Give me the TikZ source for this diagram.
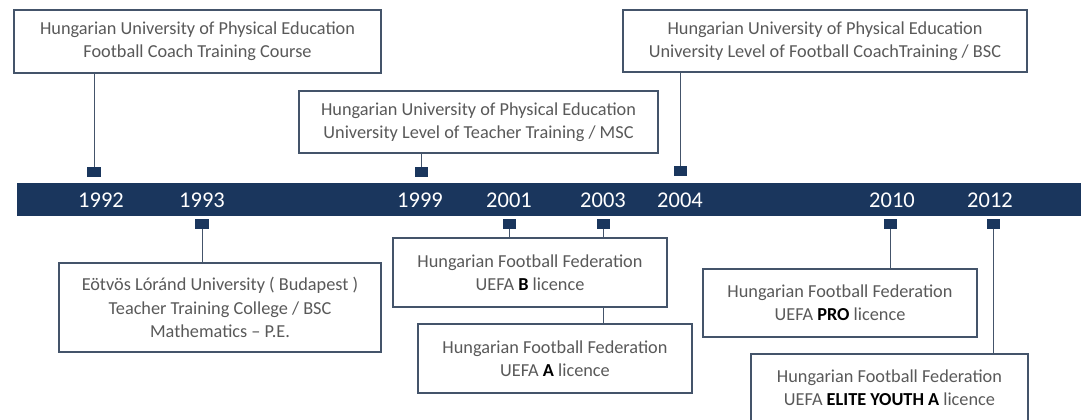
\documentclass[tikz,border=0pt]{standalone}
\usepackage{fontspec}
\setmainfont{Carlito}
\usepackage{xcolor}
\usepackage{tikz}
\usetikzlibrary{positioning}
\definecolor{barblue}{RGB}{26,54,93}
\definecolor{boxline}{RGB}{68,84,106}
\definecolor{textgrey}{RGB}{89,89,89}
\newcommand{\lvl}[1]{\textcolor{black}{\textbf{#1}}}
\begin{document}
\begin{tikzpicture}[x=0.025cm,y=-0.025cm,
  infobox/.style={draw=boxline,line width=0.8pt,fill=white,text=textgrey,align=center,inner sep=0pt,font=\fontsize{13}{16.5}\selectfont},
  year/.style={text=white,font=\fontsize{16}{18}\selectfont},
  yearmark/.style={fill=barblue,minimum width=0.325cm,minimum height=0.25cm,inner sep=0pt},
  link/.style={draw=boxline,line width=0.7pt}]
\clip (0,0) rectangle (1088,420);
\fill[barblue] (17,183) rectangle (1081,216);
\node[year] at (101,200) (y1992) {1992};
\node[year] at (202,200) (y1993) {1993};
\node[year] at (420,200) (y1999) {1999};
\node[year] at (509,200) (y2001) {2001};
\node[year] at (603,200) (y2003) {2003};
\node[year] at (680,200) (y2004) {2004};
\node[year] at (892,200) (y2010) {2010};
\node[year] at (990,200) (y2012) {2012};
\node[yearmark] at (94,172) (m1992) {};
\node[yearmark] at (421,172) (m1999) {};
\node[yearmark] at (680,171) (m2004) {};
\node[yearmark] at (202,224) (m1993) {};
\node[yearmark] at (509,224) (m2001) {};
\node[yearmark] at (603,224) (m2003) {};
\node[yearmark] at (890,224) (m2010) {};
\node[yearmark] at (993,224) (m2012) {};
\node[infobox,minimum width=9.175cm,minimum height=1.575cm] at (197.5,41.5) (pe1) {Hungarian University of Physical Education\\Football Coach Training Course};
\node[infobox,minimum width=8.975cm,minimum height=1.55cm] at (478.5,122) (pe2) {Hungarian University of Physical Education\\University Level of Teacher Training / MSC};
\node[infobox,minimum width=10.1cm,minimum height=1.55cm] at (825,41) (pe3) {Hungarian University of Physical Education\\University Level of Football CoachTraining / BSC};
\node[infobox,minimum width=8.05cm,minimum height=2.225cm] at (220,307.5) (elte) {Eötvös Lóránd University ( Budapest )\\Teacher Training College / BSC\\Mathematics -- P.E.};
\node[infobox,minimum width=6.85cm,minimum height=1.725cm] at (555,358.5) (fa) {Hungarian Football Federation\\UEFA \lvl{A} licence};
\path[link] (m2003.south) -- (m2003 |- fa.north);
\node[infobox,minimum width=6.85cm,minimum height=1.725cm] at (530,272.5) (fb) {Hungarian Football Federation\\UEFA \lvl{B} licence};
\node[infobox,minimum width=6.85cm,minimum height=1.7cm] at (840,303) (fpro) {Hungarian Football Federation\\UEFA \lvl{PRO} licence};
\node[infobox,minimum width=6.925cm,minimum height=1.7cm] at (889.5,388) (felite) {Hungarian Football Federation\\UEFA \lvl{ELITE YOUTH A} licence};
\path[link] (m1992.north) -- (m1992 |- pe1.south);
\path[link] (m1999.north) -- (m1999 |- pe2.south);
\path[link] (m2004.north) -- (m2004 |- pe3.south);
\path[link] (m1993.south) -- (m1993 |- elte.north);
\path[link] (m2001.south) -- (m2001 |- fb.north);
\path[link] (m2010.south) -- (m2010 |- fpro.north);
\path[link] (m2012.south) -- (m2012 |- felite.north);
\end{tikzpicture}
\end{document}
